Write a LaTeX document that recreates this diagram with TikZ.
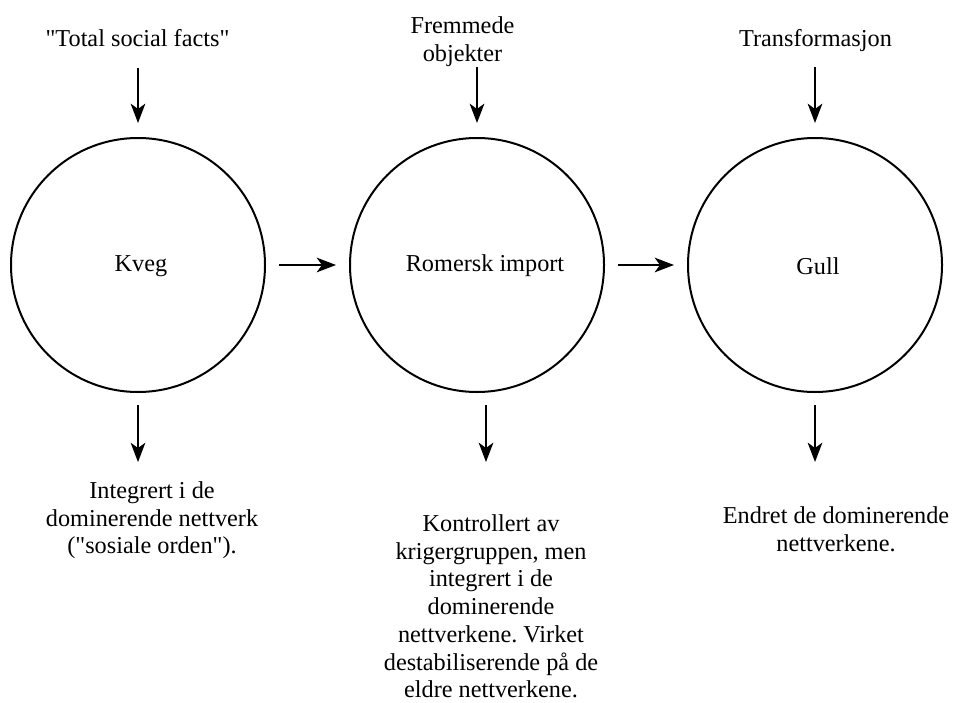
\documentclass[tikz,border=0pt]{standalone}
\usepackage{fontspec}
\setmainfont{Liberation Serif}
\usetikzlibrary{arrows.meta}
\frenchspacing

\tikzset{
  sirkel/.style={draw, circle, line width=1.5pt, minimum size=190.5pt, inner sep=0pt},
  tekst/.style={font=\fontsize{18.2}{20.8}\selectfont, align=center, inner sep=0pt},
  pil/.style={->, line width=1.4pt},
}

\begin{document}
\begin{tikzpicture}[x=0.75pt, y=-0.75pt, >={Stealth[length=14.5pt, width=11pt, inset=4pt]}]
\useasboundingbox (0,0) rectangle (955,702);
%%%SIRKLER
\node[sirkel] (kveg) at (138,265) {};
\node[sirkel] (romersk) at (477,265) {};
\node[sirkel] (gull) at (815,265) {};
\node[tekst] (kveglbl) at (141,266) {Kveg};
\node[tekst] (romersklbl) at (485,266) {Romersk import};
\node[tekst] (gulllbl) at (818,266) {Gull};
%%%TEKST OVER
\node[tekst, anchor=base] (total) at (137.5,47) {\textquotedbl Total social facts\textquotedbl};
\node[tekst, anchor=north] (fremmede) at (462.5,16.4) {Fremmede\\objekter};
\node[tekst, anchor=base] (transf) at (815.5,47) {Transformasjon};
%%%TEKST UNDER
\node[tekst, anchor=north] (integrert) at (152,481.4) {Integrert i de\\dominerende nettverk\\(\textquotedbl sosiale orden\textquotedbl).};
\node[tekst, anchor=north] (kontroll) at (491,514.4) {Kontrollert av\\krigergruppen, men\\integrert i de\\dominerende\\nettverkene. Virket\\destabiliserende på de\\eldre nettverkene.};
\node[tekst, anchor=north] (endret) at (836,506.4) {Endret de dominerende\\nettverkene.};
%%%PILER
\draw[pil, shorten <=15pt, shorten >=10.5pt] (total.south -| kveg) -- (kveg.north);
\draw[pil, shorten <=0.5pt, shorten >=10.5pt] (fremmede.south -| romersk) -- (romersk.north);
\draw[pil, shorten <=11pt, shorten >=10.5pt] (transf.south -| gull) -- (gull.north);
\draw[pil, shorten <=9.75pt, shorten >=9.75pt] (kveg.east) -- (romersk.west);
\draw[pil, shorten <=9.75pt, shorten >=9.75pt] (romersk.east) -- (gull.west);
\draw[pil, shorten <=9pt, shorten >=14.5pt] (kveg.south) -- (integrert.north -| kveg);
\draw[pil, shorten <=9pt, shorten >=39.3pt] ([xshift=6.75pt]romersk.south) -- ([xshift=-3.75pt]kontroll.north);
\draw[pil, shorten <=9pt, shorten >=33.3pt] (gull.south) -- (endret.north -| gull);
\end{tikzpicture}
\end{document}
